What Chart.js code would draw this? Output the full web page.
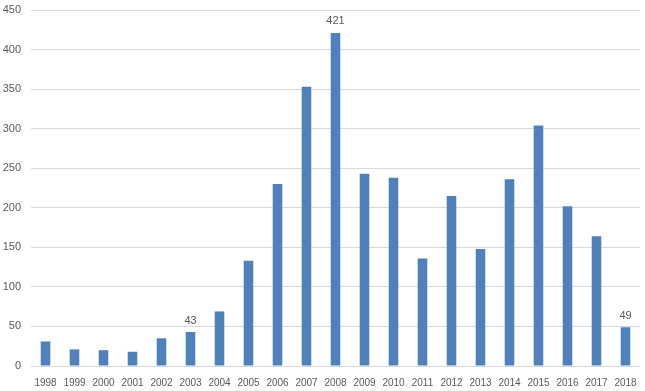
<!DOCTYPE html>
<html>
<head>
<meta charset="utf-8">
<script src="https://cdn.jsdelivr.net/npm/chart.js@4"></script>
<style>
  html, body { margin: 0; padding: 0; background: #fff; }
  #wrap { width: 645px; height: 391px; }
</style>
</head>
<body>
<div id="wrap"><canvas id="chart"></canvas></div>
<script>
const years = ['1998', '1999', '2000', '2001', '2002', '2003', '2004', '2005', '2006', '2007', '2008',
  '2009', '2010', '2011', '2012', '2013', '2014', '2015', '2016', '2017', '2018'];
const counts = [31, 21, 20, 18, 35, 43, 69, 133, 230, 353, 421, 243, 238, 136, 215, 148, 236, 304, 202, 164, 49];
const labelledYears = ['2003', '2008', '2018'];

const textColor = '#595959';

// draws the value above the few bars that carry a label
const valueLabels = {
  id: 'valueLabels',
  afterDatasetsDraw(chart) {
    const ctx = chart.ctx;
    const meta = chart.getDatasetMeta(0);
    ctx.save();
    ctx.fillStyle = textColor;
    ctx.font = '11px "Liberation Sans", Arial, sans-serif';
    ctx.textAlign = 'center';
    ctx.textBaseline = 'bottom';
    meta.data.forEach((bar, i) => {
      if (labelledYears.includes(years[i])) {
        ctx.fillText(String(counts[i]), bar.x, bar.y - 6);
      }
    });
    ctx.restore();
  }
};

new Chart(document.getElementById('chart'), {
  type: 'bar',
  data: {
    labels: years,
    datasets: [{
      data: counts,
      backgroundColor: '#4F81BD',
      categoryPercentage: 1,
      barPercentage: 0.33
    }]
  },
  options: {
    responsive: true,
    maintainAspectRatio: false,
    animation: false,
    layout: {
      padding: { top: 10, right: 5, left: 0, bottom: 0 }
    },
    scales: {
      x: {
        grid: { display: false },
        border: { display: false },
        ticks: {
          color: textColor,
          font: { family: '"Liberation Sans", Arial, sans-serif', size: 10 },
          padding: 3,
          maxRotation: 0,
          autoSkip: false
        },
        afterFit(scale) {
          scale.height = 25;
          scale.paddingLeft = 0;
          scale.paddingRight = 0;
        }
      },
      y: {
        min: 0,
        max: 450,
        grid: { color: '#D9D9D9', drawTicks: false },
        border: { display: false },
        ticks: {
          stepSize: 50,
          color: textColor,
          font: { family: '"Liberation Sans", Arial, sans-serif', size: 11 },
          padding: 10
        },
        afterFit(scale) {
          scale.width = 31;
          scale.paddingTop = 0;
          scale.paddingBottom = 0;
        }
      }
    },
    plugins: {
      legend: { display: false },
      tooltip: { enabled: false }
    }
  },
  plugins: [valueLabels]
});
</script>
</body>
</html>
